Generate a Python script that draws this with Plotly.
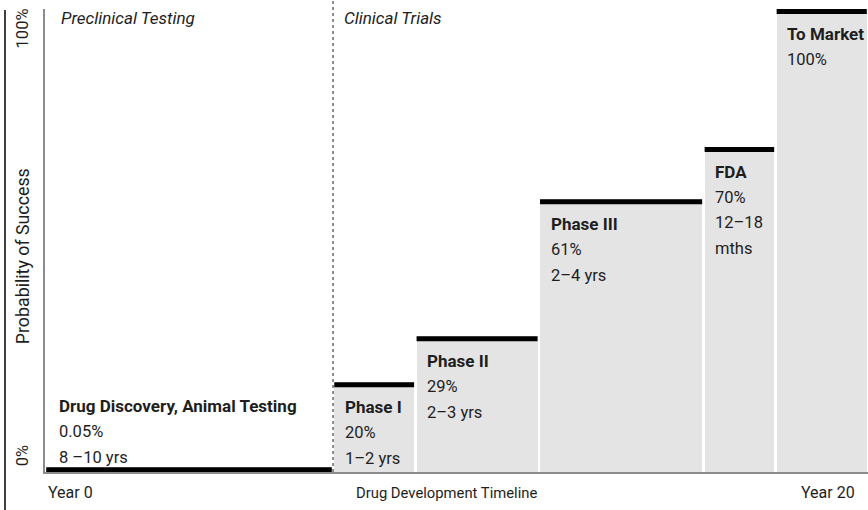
import plotly.graph_objects as go

# ---- data ----
stage_names = ["Drug Discovery, Animal Testing", "Phase I", "Phase II", "Phase III", "FDA", "To Market"]
stage_pct_text = ["0.05%", "20%", "29%", "61%", "70%", "100%"]
stage_duration = [["8 –10 yrs"], ["1–2 yrs"], ["2–3 yrs"], ["2–4 yrs"], ["12–18", "mths"], []]
year_start = [0, 7, 9, 12, 16, 17.75]
year_end = [7, 9, 12, 16, 17.75, 20]
bar_height = [1.0, 19.4, 29.3, 58.9, 70.2, 100]   # drawn height (% of success axis)
phase_labels = ["Preclinical Testing", "Clinical Trials"]
phase_start = [0, 7]
y_tick_labels = ["0%", "100%"]
x_end_labels = ["Year 0", "Year 20"]
x_title = "Drug Development Timeline"
y_title = "Probability of Success"

FONT = "Liberation Sans Narrow, Arial Narrow, Roboto, sans-serif"
TXT = "#1e1e1e"
GREY = "#e4e4e4"
GAP = 0.03
LINE_OFF = 0.54  # half thickness of top rule in data units

fig = go.Figure()

starts = [s + GAP for s in year_start]
ends = [e - GAP for e in year_end]
centers = [(a + b) / 2 for a, b in zip(starts, ends)]
widths = [b - a for a, b in zip(starts, ends)]

fig.add_trace(go.Bar(x=centers, y=bar_height, width=widths, base=0,
                     marker=dict(color=GREY, line=dict(width=0)),
                     hoverinfo="skip", showlegend=False))

for a, b, h in zip(starts, ends, bar_height):
    fig.add_trace(go.Scatter(x=[a, b], y=[h - LINE_OFF, h - LINE_OFF], mode="lines",
                             line=dict(color="black", width=5),
                             hoverinfo="skip", showlegend=False))

annotations = []
SP = 25.5
for i, name in enumerate(stage_names):
    lines = [("<b>%s</b>" % name, 17)] + [(stage_pct_text[i], 16.5)] + [(d, 16.5) for d in stage_duration[i]]
    for j, (t, fs) in enumerate(lines):
        if i == 0:
            # labels sit above the (near-zero) first bar
            shift = 10 + SP * (len(lines) - 1 - j)
            xs = 12
        else:
            shift = -(25 + SP * j)
            xs = 10
        annotations.append(dict(x=year_start[i], y=bar_height[i], xref="x", yref="y",
                                text=t, showarrow=False, xanchor="left", yanchor="middle",
                                xshift=xs, yshift=shift,
                                font=dict(family=FONT, size=fs, color=TXT)))

for lab, xs0, xs in zip(phase_labels, phase_start, [14, 9]):
    annotations.append(dict(x=xs0, y=0.981, xref="x", yref="paper", text="<i>%s</i>" % lab,
                            showarrow=False, xanchor="left", yanchor="middle", xshift=xs,
                            font=dict(family=FONT, size=17, color=TXT)))

# axis labels
annotations.append(dict(x=0, y=-0.045, xref="x", yref="paper", text=x_end_labels[0],
                        showarrow=False, xanchor="left", yanchor="middle", xshift=1,
                        font=dict(family=FONT, size=16, color=TXT)))
annotations.append(dict(x=20, y=-0.045, xref="x", yref="paper", text=x_end_labels[1],
                        showarrow=False, xanchor="right", yanchor="middle", xshift=-11,
                        font=dict(family=FONT, size=16, color=TXT)))
annotations.append(dict(x=0.4875, y=-0.045, xref="paper", yref="paper", text=x_title,
                        showarrow=False, xanchor="center", yanchor="middle",
                        font=dict(family=FONT, size=14.8, color=TXT)))
for lab, yp in zip(y_tick_labels, [0.036, 0.958]):
    annotations.append(dict(x=-0.028, y=yp, xref="paper", yref="paper", text=lab,
                            showarrow=False, textangle=-90, xanchor="center", yanchor="middle",
                            font=dict(family=FONT, size=16.5, color=TXT)))
annotations.append(dict(x=-0.028, y=0.466, xref="paper", yref="paper", text=y_title,
                        showarrow=False, textangle=-90, xanchor="center", yanchor="middle",
                        font=dict(family=FONT, size=17.8, color=TXT)))

shapes = [
    dict(type="line", xref="x", yref="paper", x0=7, x1=7, y0=0, y1=1.02,
         line=dict(color="#444444", width=1.2, dash="dot"), layer="above"),
    dict(type="line", xref="paper", yref="paper", x0=-0.0486, x1=-0.0486, y0=1 - 1 / 463, y1=-0.09,
         line=dict(color="black", width=1.5)),
]

fig.update_layout(
    width=868, height=510,
    margin=dict(l=45, r=0, t=9, b=38),
    paper_bgcolor="white", plot_bgcolor="white",
    bargap=0,
    xaxis=dict(range=[0, 20], showgrid=False, zeroline=False, showticklabels=False,
               ticks="", showline=True, linecolor="#8c8c8c", linewidth=1.5, fixedrange=True),
    yaxis=dict(range=[0, 100], showgrid=False, zeroline=False, showticklabels=False,
               ticks="", showline=True, linecolor="#8c8c8c", linewidth=1.5, fixedrange=True),
    annotations=annotations,
    shapes=shapes,
    showlegend=False,
)

fig.write_html("out.html", config={"displayModeBar": False},
               post_script="document.body.style.margin='0px';document.body.style.overflow='hidden';")
